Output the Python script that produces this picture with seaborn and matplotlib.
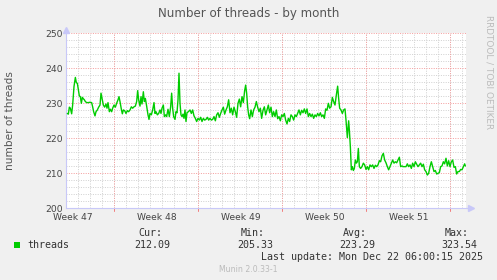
import matplotlib
matplotlib.use("Agg")
import matplotlib.pyplot as plt
import seaborn as sns
import pandas as pd
from matplotlib.patches import Rectangle

# ---- data (hours since left edge of graph, thread count) ----
hours = [2.7, 4.7, 6.7, 8.7, 11.3, 13.3, 16.0, 18.7, 20.7, 22.7, 24.7, 26.7, 28.7, 30.7, 32.7, 34.7,
         36.7, 38.7, 41.3, 44.7, 48.0, 51.3, 53.3, 55.3, 58.0, 60.0, 62.7, 65.3, 68.0, 70.0, 72.0, 74.7,
         77.3, 80.0, 82.0, 84.0, 86.7, 88.7, 91.3, 93.3, 96.0, 98.7, 101.3, 104.0, 106.0, 108.0, 110.7,
         112.7, 114.7, 117.3, 120.0, 122.7, 125.3, 128.0, 130.7, 133.3, 136.0, 138.7, 141.3, 143.3,
         145.3, 148.0, 150.0, 152.0, 154.7, 156.7, 158.7, 161.3, 164.0, 166.0, 168.0, 170.7, 173.3,
         176.0, 178.0, 180.0, 182.7, 185.3, 188.0, 190.0, 192.0, 194.7, 196.7, 199.3, 201.3, 204.0,
         206.7, 209.3, 211.3, 213.3, 215.3, 218.0, 220.0, 222.0, 224.0, 226.0, 228.0, 230.0, 232.0,
         234.0, 236.0, 238.0, 240.0, 242.0, 244.7, 248.0,
         250.7, 253.3, 256.0, 258.7, 261.3, 264.0, 266.7, 269.3, 272.0, 274.7, 277.3, 280.0, 282.7,
         285.3, 288.0, 290.7, 293.3, 296.0, 298.7, 301.3, 304.0, 306.7, 309.3, 312.0, 314.7, 317.3,
         320.0, 322.7, 325.3, 328.0, 330.7, 333.3, 336.0, 338.7, 341.3, 344.0, 346.7, 349.3, 352.0,
         354.7, 357.3, 359.3, 361.3, 363.3, 365.3, 367.3, 370.0, 372.7, 375.3, 378.0, 380.7, 383.3,
         386.0, 388.7, 391.3, 394.0, 396.7, 399.3, 402.0, 404.7, 407.3, 410.0, 412.7, 415.3, 418.0,
         420.7, 423.3, 426.0, 428.7, 431.3, 434.0, 436.7, 439.3, 442.0, 444.7, 447.3, 450.0, 452.7,
         455.3, 458.0, 460.7, 463.3, 466.0, 468.7, 471.3, 474.0, 476.7, 479.3, 482.0, 484.7, 487.3,
         490.0, 492.7, 495.3, 498.0, 500.7, 503.3, 506.0, 508.7, 511.3, 514.0, 516.7, 519.3, 522.0,
         524.7, 527.3, 530.0, 532.7, 535.3, 538.0, 540.7, 543.3, 545.3, 547.3, 550.0, 552.7, 555.3,
         558.0, 560.0, 562.7, 565.3, 566.7, 568.7,
         570.7, 572.7, 574.7, 576.7, 578.7, 580.7, 582.7, 584.7, 586.7, 589.3, 592.0, 594.7, 597.3,
         600.0, 602.7, 605.3, 608.0, 610.7, 613.3, 616.0, 618.7, 621.3, 624.0, 626.7, 629.3, 632.0,
         634.7, 637.3, 640.0, 642.7, 645.3, 648.0, 650.7, 653.3, 656.0, 658.7, 661.3, 664.0, 666.7,
         669.3, 672.0, 674.7, 677.3, 680.0, 682.7, 685.3, 688.0, 690.7, 693.3, 696.0, 698.7, 701.3,
         704.0, 706.7, 709.3, 712.0, 714.7, 717.3, 720.0, 722.7, 725.3, 728.0, 730.7, 733.3, 736.0,
         738.7, 741.3, 744.0, 746.7, 749.3, 752.0, 754.7, 757.3, 760.0, 762.7, 765.3, 768.0, 770.7,
         773.3, 776.0, 778.7, 781.3, 784.0, 786.7, 789.3, 792.0, 794.7, 797.3, 798.7]

threads = [227.1, 226.9, 228.9, 228.6, 227.0, 229.5, 234.8, 237.4, 235.9, 235.7, 233.8, 232.1, 231.9,
           230.0, 231.7, 231.3, 231.0, 230.5, 230.2, 230.2, 230.3, 230.2, 229.0, 227.6, 226.4, 227.6,
           228.1, 228.9, 229.5, 232.9, 231.4, 229.5, 228.9, 229.8, 228.6, 230.2, 227.6, 228.3, 227.6,
           228.6, 229.5, 228.9, 230.0, 231.0, 231.9, 230.5, 228.3, 227.0, 228.1, 227.9, 227.1, 227.9,
           227.6, 228.1, 229.0, 228.6, 229.0, 229.2, 230.5, 233.6, 231.0, 229.2, 231.9, 229.8, 233.3,
           230.5, 231.4, 229.2, 226.7, 225.4, 227.1, 226.7, 228.1, 230.2, 227.1, 227.6, 226.7, 227.1,
           228.1, 227.1, 228.6, 229.5, 226.2, 226.7, 226.2, 228.3, 226.2, 229.0, 232.9, 228.6, 226.2,
           225.4, 227.6, 227.3, 231.0, 238.6, 230.0, 226.7, 226.2, 226.9, 225.7, 228.1, 224.8, 227.3,
           227.6, 228.1,
           227.1, 228.1, 226.4, 225.7, 224.8, 225.7, 225.2, 226.0, 224.8, 225.7, 225.2, 225.4, 226.0,
           225.2, 225.7, 225.2, 225.4, 226.2, 225.0, 226.7, 227.3, 226.0, 227.1, 228.1, 228.9, 226.9,
           228.1, 229.0, 231.0, 227.3, 228.6, 226.7, 228.9, 227.6, 226.0, 230.0, 231.2, 229.0, 231.9,
           230.2, 233.6, 235.2, 232.9, 229.0, 226.7, 225.6, 228.1, 226.2, 228.1, 228.9, 230.5, 228.9,
           227.6, 228.6, 225.7, 228.0, 229.0, 226.7, 228.1, 229.5, 227.3, 228.9, 226.2, 227.6, 226.2,
           228.1, 225.6, 226.2, 225.0, 226.7, 226.2, 227.1, 225.2, 224.1, 225.7, 224.8, 226.7, 226.2,
           225.2, 226.7, 226.2, 227.1, 228.1, 226.7, 228.0, 227.3, 228.4, 227.1, 228.4, 226.2, 227.1,
           226.2, 226.9, 225.7, 226.7, 226.2, 227.1, 226.4, 227.3, 226.2, 226.7, 225.7, 228.4, 228.0,
           230.0, 228.6, 229.0, 231.7, 230.5, 229.5, 232.4, 234.9, 231.4, 228.6, 228.1, 227.1, 228.1,
           228.4, 225.2, 220.2, 225.0, 222.4, 217.6,
           211.0, 211.9, 210.8, 211.4, 213.8, 212.9, 213.3, 217.1, 211.9, 211.4, 211.9, 212.9, 212.4,
           211.1, 211.9, 211.0, 212.4, 211.9, 212.4, 211.4, 212.3, 211.9, 212.4, 213.6, 213.3, 215.0,
           215.7, 213.8, 213.0, 211.9, 211.0, 211.9, 212.9, 213.8, 212.9, 213.3, 213.0, 213.8, 214.6,
           211.9, 212.1, 211.9, 211.9, 211.9, 212.7, 211.9, 212.4, 211.4, 212.9, 211.9, 213.3, 212.6,
           211.9, 212.4, 212.9, 211.9, 212.6, 211.0, 210.5, 209.5, 210.0, 211.9, 213.3, 211.9, 210.5,
           210.8, 209.8, 210.0, 210.2, 211.9, 212.1, 213.3, 212.7, 214.3, 212.1, 213.6, 211.9, 213.3,
           213.8, 211.7, 211.9, 209.8, 210.5, 210.5, 211.1, 211.0, 211.9, 212.7, 212.1]

y_ticks = [200, 210, 220, 230, 240, 250]
week_labels = ["Week 47", "Week 48", "Week 49", "Week 50", "Week 51"]
legend_name = "threads"
stat_headers = ["Cur:", "Min:", "Avg:", "Max:"]
stat_values = ["212.09", "205.33", "223.29", "323.54"]

df = pd.DataFrame({"hours": hours, "threads": threads})

sns.set_style("white")
plt.rcParams['font.family'] = ['DejaVu Sans']

W, H = 497, 280
fig = plt.figure(figsize=(W / 100, H / 100), dpi=100)
fig.patch.set_facecolor("#F0F0F0")

px_l, px_r, px_t, px_b = 66, 466, 33.3, 208.3
ax = fig.add_axes([px_l / W, 1 - px_b / H, (px_r - px_l) / W, (px_b - px_t) / H])
ax.set_facecolor("white")

# grid (dotted)
minor_c = "#D2D2D2"
major_c = "#F4A0A0"
dash = (0, (1, 1.4))
for h in range(0, 800, 24):
    xv = 0.6 + h
    if xv > 1:
        ax.axvline(xv, color=minor_c, lw=0.72, ls=dash, zorder=0)
for v in range(202, 251, 2):
    if v % 10:
        ax.axhline(v, color=minor_c, lw=0.72, ls=dash, zorder=0)
major_x = [96.6 + 168 * k for k in range(5)]
for xv in major_x:
    ax.axvline(xv, color=major_c, lw=0.72, ls=dash, zorder=1)
for v in y_ticks[1:]:
    ax.axhline(v, color=major_c, lw=0.72, ls=dash, zorder=1)

sns.lineplot(data=df, x="hours", y="threads", ax=ax, color="#00CC00", lw=1.0, zorder=3)

ax.set_xlim(0, 800)
ax.set_ylim(200, 250)
ax.set_xlabel("")
ax.set_ylabel("")

# ticks
ax.set_yticks(y_ticks)
ax.set_yticklabels([str(t) for t in y_ticks])
ax.set_xticks([14 + 168 * k for k in range(5)])
ax.set_xticklabels(week_labels)
ax.tick_params(axis="both", length=0, labelsize=6.6, colors="#444444", pad=2)
ax.tick_params(axis="x", pad=3.2)
for xv in major_x:
    ax.plot([xv, xv], [0, -0.015], transform=ax.get_xaxis_transform(), color="#F08080",
            lw=0.72, clip_on=False)

for s in ["top", "right"]:
    ax.spines[s].set_visible(False)
axis_c = "#C8C8F8"
for s in ["left", "bottom"]:
    ax.spines[s].set_color(axis_c)
    ax.spines[s].set_linewidth(0.8)
ax.plot([1, 1.012], [0, 0], transform=ax.transAxes, color=axis_c, lw=0.8, clip_on=False)
ax.plot([1.012], [0], marker=">", ms=4, color=axis_c, transform=ax.transAxes, clip_on=False, mec=axis_c)
ax.plot([0, 0], [1, 1.02], transform=ax.transAxes, color=axis_c, lw=0.8, clip_on=False)
ax.plot([0], [1.02], marker="^", ms=4, color=axis_c, transform=ax.transAxes, clip_on=False, mec=axis_c)

# texts
fig.text(249 / W, 1 - 13 / H, "Number of threads - by month", ha="center", va="center",
         fontsize=8.6, color="#555555")
fig.text(10 / W, 1 - 121 / H, "number of threads", rotation=90, ha="center", va="center",
         fontsize=7.6, color="#555555")
fig.text(489 / W, 1 - 15 / H, "RRDTOOL / TOBI OETIKER", rotation=270, ha="center", va="top",
         fontsize=6.4, color="#BBBBBB")

mono = "DejaVu Sans Mono"
fig.patches.append(Rectangle((14 / W, 1 - 248 / H), 6 / W, 6 / H, transform=fig.transFigure,
                             facecolor="#00CC00", edgecolor="none"))
fig.text(27 / W, 1 - 245.5 / H, legend_name, ha="left", va="center", family=mono,
         fontsize=7.2, color="#333333")
hdr_right = [162, 265, 367, 469]
val_right = [170, 273, 375, 477]
for hx, vx, hd, vl in zip(hdr_right, val_right, stat_headers, stat_values):
    fig.text(hx / W, 1 - 233.5 / H, hd, ha="right", va="center", family=mono, fontsize=7.2, color="#333333")
    fig.text(vx / W, 1 - 245.5 / H, vl, ha="right", va="center", family=mono, fontsize=7.2, color="#333333")
fig.text(483 / W, 1 - 257.5 / H, "Last update: Mon Dec 22 06:00:15 2025", ha="right", va="center",
         family=mono, fontsize=7.2, color="#333333")
fig.text(248 / W, 1 - 269 / H, "Munin 2.0.33-1", ha="center", va="center", fontsize=5.6,
         color="#BBBBBB")

fig.savefig("out.png", dpi=100, facecolor=fig.get_facecolor())
